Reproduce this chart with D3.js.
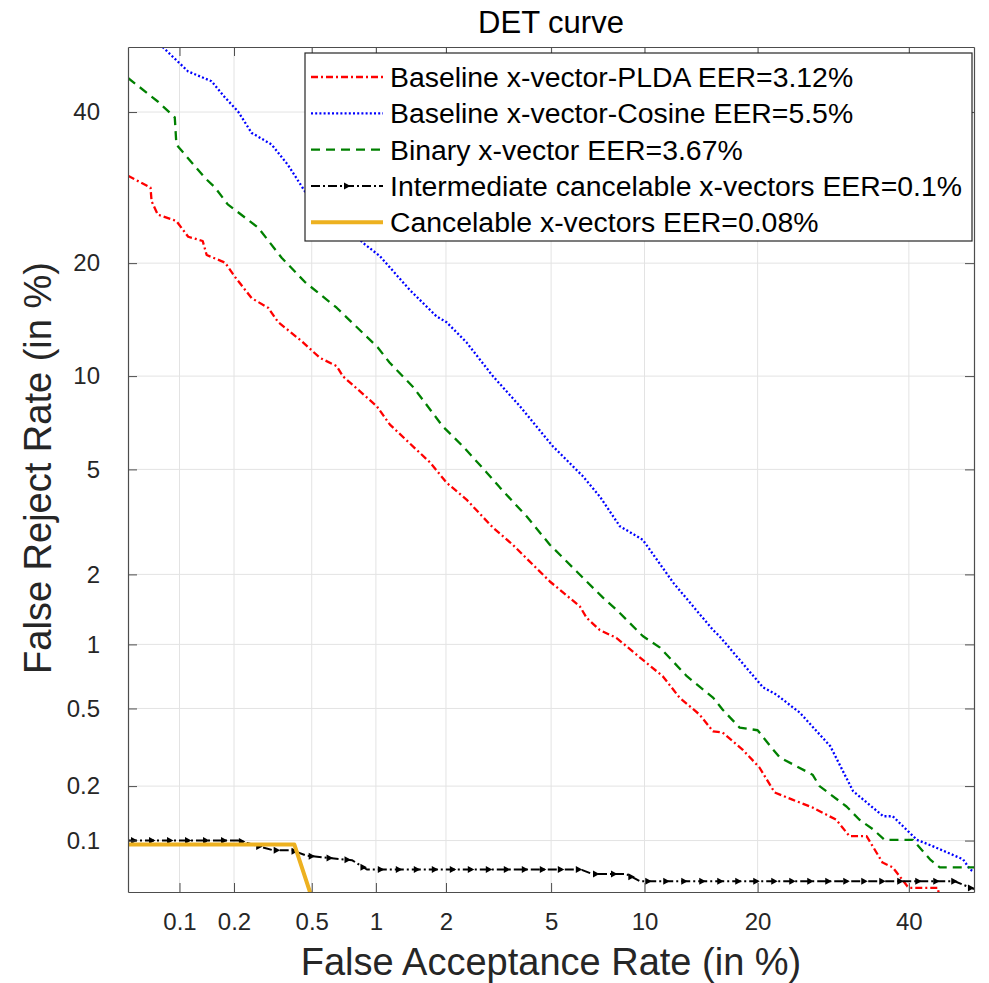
<!DOCTYPE html>
<html>
<head>
<meta charset="utf-8">
<script src="https://cdn.jsdelivr.net/npm/d3@7"></script>
<style>
  body { margin: 0; background: #fff; }
  svg { font-family: "Liberation Sans", Arial, Helvetica, sans-serif; }
</style>
</head>
<body>
<svg id="det" width="989" height="983"></svg>
<script>
// values, [false acceptance %, false reject %]
var plda = [[0.05,30.8],[0.068,29.2],[0.069,27.4],[0.075,25.7],[0.096,24.9],[0.112,23.0],[0.135,22.5],
  [0.142,20.9],[0.179,20.05],[0.203,18.5],[0.248,16.4],[0.302,15.5],[0.34,14.2],[0.446,12.6],[0.548,11.3],
  [0.659,10.7],[0.706,9.98],[1.01,8.09],[1.155,7.07],[1.72,5.28],[2.01,4.49],[2.42,3.9],[3.07,3.06],
  [3.64,2.63],[4.95,1.87],[6.26,1.47],[6.6,1.31],[7.27,1.16],[8.21,1.07],[10.1,0.827],[11.3,0.714],
  [12.6,0.565],[14.3,0.466],[15.5,0.385],[16.4,0.38],[18.4,0.311],[20.2,0.251],[21.9,0.185],[24.0,0.169],
  [26.5,0.153],[29.6,0.131],[31.4,0.106],[33.8,0.106],[36.1,0.0747],[37.6,0.07],[39.8,0.054],[40.1,0.053],
  [44.4,0.053],[44.7,0.045]];
var cosine = [[0.08,50],[0.112,46.2],[0.151,44.7],[0.179,42.2],[0.21,40.1],[0.248,36.9],[0.315,35.2],
  [0.381,32.3],[0.463,28.7],[0.646,25.3],[0.892,22.1],[1.04,20.8],[1.41,17.2],[1.83,14.7],[2.01,14.2],
  [2.42,12.5],[3.07,9.98],[3.87,8.09],[5.07,6.0],[6.41,4.73],[7.28,4.0],[8.42,3.1],[9.88,2.75],[12.1,1.85],
  [15.5,1.16],[16.1,1.09],[20.6,0.632],[22.1,0.584],[24.9,0.477],[28.8,0.324],[31.9,0.188],[36.2,0.137],
  [37.6,0.137],[41.2,0.101],[43.6,0.093],[48.3,0.078],[49.4,0.068],[50,0.066]];
var binary = [[0.05,45.2],[0.075,41.6],[0.094,39.2],[0.096,35.2],[0.139,30.5],[0.158,29.2],[0.185,27.0],
  [0.268,24.1],[0.354,20.6],[0.463,18.0],[0.659,15.5],[1.02,12.1],[1.15,10.96],[1.46,9.26],[1.94,6.98],
  [2.34,6.0],[2.9,4.88],[3.26,4.31],[4.09,3.38],[4.95,2.63],[6.1,2.06],[7.45,1.6],[8.23,1.42],[9.88,1.09],
  [11.1,0.967],[13.2,0.714],[15.5,0.565],[16.4,0.494],[18.1,0.402],[20.0,0.39],[21.4,0.324],[22.5,0.283],
  [24.5,0.255],[26.5,0.23],[27.4,0.2],[31.0,0.155],[32.8,0.131],[34.7,0.116],[36.4,0.101],[40.6,0.101],
  [43.2,0.078],[44.7,0.07],[50,0.07]];
var intermediate = [[0.05,0.1],[0.21,0.1],[0.234,0.097],[0.32,0.088],[0.40,0.088],[0.47,0.082],[0.78,0.077],
  [0.91,0.068],[6.3,0.068],[6.9,0.064],[8.8,0.064],[9.7,0.058],[47,0.058],[50,0.052]];
var cancelable = [[0.05,0.095],[0.41,0.095],[0.52,0.04]];

var seriesNames = ["Baseline x-vector-PLDA EER=3.12%", "Baseline x-vector-Cosine EER=5.5%",
  "Binary x-vector EER=3.67%", "Intermediate cancelable x-vectors EER=0.1%", "Cancelable x-vectors EER=0.08%"];
var tickLabels = [0.1, 0.2, 0.5, 1, 2, 5, 10, 20, 40];
var axisRange = [0.05, 50];

// normal deviate (Acklam)
function probit(p) {
  var a = [-39.69683028665376, 220.9460984245205, -275.9285104469687, 138.3577518672690, -30.66479806614716, 2.506628277459239];
  var b = [-54.47609879822406, 161.5858368580409, -155.6989798598866, 66.80131188771972, -13.28068155288572];
  var c = [-0.007784894002430293, -0.3223964580411365, -2.400758277161838, -2.549732539343734, 4.374664141464968, 2.938163982698783];
  var d = [0.007784695709041462, 0.3224671290700398, 2.445134137142996, 3.754408661907416];
  var q, r;
  if (p < 0.02425) {
    q = Math.sqrt(-2 * Math.log(p));
    return (((((c[0]*q+c[1])*q+c[2])*q+c[3])*q+c[4])*q+c[5]) / ((((d[0]*q+d[1])*q+d[2])*q+d[3])*q+1);
  }
  if (p > 1 - 0.02425) return -probit(1 - p);
  q = p - 0.5; r = q * q;
  return (((((a[0]*r+a[1])*r+a[2])*r+a[3])*r+a[4])*r+a[5])*q / (((((b[0]*r+b[1])*r+b[2])*r+b[3])*r+b[4])*r+1);
}

var styles = [
  {color: "#ff0000", dash: "7,3,2,3", width: 2.3},
  {color: "#0000ff", dash: "2,2.2", width: 2.3},
  {color: "#008000", dash: "9,6", width: 2.3},
  {color: "#000000", dash: "9,3,2,3", width: 2, marker: true},
  {color: "#edb120", dash: null, width: 4}
];
var allSeries = [plda, cosine, binary, intermediate, cancelable];
var markerPath = "M-3,-3.5L3.5,0L-3,3.5Z";

var pLeft = 128, pRight = 974, pTop = 47, pBottom = 892;
var svg = d3.select("#det");

var x = d3.scaleLinear().domain(axisRange.map(function(v){ return probit(v/100); })).range([pLeft, pRight]);
var y = d3.scaleLinear().domain(axisRange.map(function(v){ return probit(v/100); })).range([pBottom, pTop]);
var tickZ = tickLabels.map(function(v){ return probit(v/100); });

svg.append("defs").append("clipPath").attr("id", "plotclip")
  .append("rect").attr("x", pLeft).attr("y", pTop).attr("width", pRight-pLeft).attr("height", pBottom-pTop);

// grid
var grid = svg.append("g");
grid.selectAll("line.gx").data(tickZ).enter().append("line").attr("class", "gx")
  .attr("x1", function(d){ return x(d); }).attr("x2", function(d){ return x(d); })
  .attr("y1", pTop).attr("y2", pBottom).attr("stroke", "#e3e3e3").attr("stroke-width", 1);
grid.selectAll("line.gy").data(tickZ).enter().append("line").attr("class", "gy")
  .attr("y1", function(d){ return y(d); }).attr("y2", function(d){ return y(d); })
  .attr("x1", pLeft).attr("x2", pRight).attr("stroke", "#e3e3e3").attr("stroke-width", 1);

// curves
var line = d3.line()
  .x(function(d){ return x(probit(d[0]/100)); })
  .y(function(d){ return y(probit(d[1]/100)); });

var plot = svg.append("g").attr("clip-path", "url(#plotclip)");
allSeries.forEach(function(data, i) {
  var st = styles[i];
  var path = plot.append("path").datum(data)
    .attr("d", line)
    .attr("fill", "none")
    .attr("stroke", st.color)
    .attr("stroke-width", st.width)
    .attr("stroke-linejoin", "round")
    .attr("stroke-dasharray", st.dash);
  if (st.marker) {
    var node = path.node(), len = node.getTotalLength();
    var pts = d3.range(6, len, 18).map(function(l){ return node.getPointAtLength(l); });
    plot.selectAll(null).data(pts).enter().append("path")
      .attr("d", markerPath)
      .attr("transform", function(p){ return "translate(" + p.x + "," + p.y + ")"; })
      .attr("fill", st.color);
  }
});

// axes
var tickFmt = function(d, i){ return tickLabels[i]; };
var xAxis = svg.append("g").attr("transform", "translate(0," + pBottom + ")")
  .call(d3.axisBottom(x).tickValues(tickZ).tickFormat(tickFmt).tickSizeInner(-9).tickSizeOuter(0).tickPadding(21));
var yAxis = svg.append("g").attr("transform", "translate(" + pLeft + ",0)")
  .call(d3.axisLeft(y).tickValues(tickZ).tickFormat(tickFmt).tickSizeInner(-9).tickSizeOuter(0).tickPadding(28));
var xTop = svg.append("g").attr("transform", "translate(0," + pTop + ")")
  .call(d3.axisTop(x).tickValues(tickZ).tickFormat("").tickSizeInner(-9).tickSizeOuter(0));
var yRight = svg.append("g").attr("transform", "translate(" + pRight + ",0)")
  .call(d3.axisRight(y).tickValues(tickZ).tickFormat("").tickSizeInner(-9).tickSizeOuter(0));
[xAxis, yAxis, xTop, yRight].forEach(function(g) {
  g.select(".domain").attr("stroke", "#4d4d4d").attr("stroke-width", 1.2);
  g.selectAll(".tick line").attr("stroke", "#4d4d4d").attr("stroke-width", 1);
  g.selectAll("text").attr("fill", "#262626").style("font-size", "24px")
    .style("font-family", "Liberation Sans, Arial, sans-serif");
});

// titles
svg.append("text").attr("x", 551).attr("y", 33).attr("text-anchor", "middle")
  .style("font-size", "31px").attr("fill", "#000").text("DET curve");
svg.append("text").attr("x", 551).attr("y", 975).attr("text-anchor", "middle")
  .style("font-size", "38px").attr("fill", "#262626").text("False Acceptance Rate (in %)");
svg.append("text").attr("transform", "translate(51,468) rotate(-90)").attr("text-anchor", "middle")
  .style("font-size", "38px").attr("fill", "#262626").text("False Reject Rate (in %)");

// legend
var lg = svg.append("g");
lg.append("rect").attr("x", 305).attr("y", 53).attr("width", 667).attr("height", 188)
  .attr("fill", "#fff").attr("stroke", "#262626").attr("stroke-width", 1.2);
seriesNames.forEach(function(name, i) {
  var st = styles[i], cy = 77 + i * 36.3;
  lg.append("line").attr("x1", 311).attr("x2", 383).attr("y1", cy).attr("y2", cy)
    .attr("stroke", st.color).attr("stroke-width", st.width).attr("stroke-dasharray", st.dash);
  if (st.marker) {
    lg.append("path").attr("d", markerPath)
      .attr("transform", "translate(347," + cy + ")").attr("fill", st.color);
  }
  lg.append("text").attr("x", 390).attr("y", cy + 10).style("font-size", "28.4px").attr("fill", "#000").text(name);
});
</script>
</body>
</html>
